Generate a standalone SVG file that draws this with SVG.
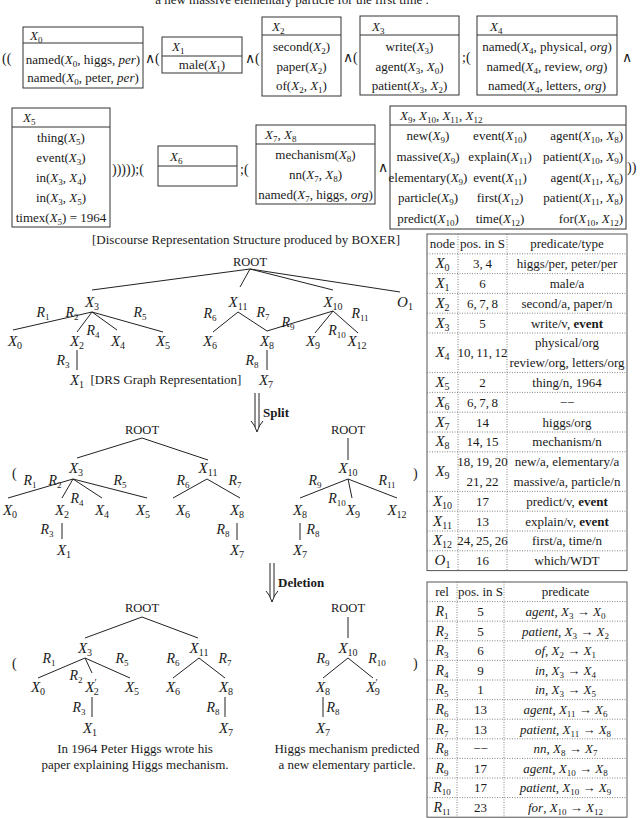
<svg xmlns="http://www.w3.org/2000/svg" width="640" height="818" viewBox="0 0 640 818">
<style>
text{font-family:"Liberation Serif","Times New Roman",serif;fill:#1a1a1a;font-size:13px}
.c{text-anchor:middle}
.c2{text-anchor:middle;font-size:13px}
.e2{text-anchor:end}
.i{font-style:italic}
.b{font-size:9px;font-style:normal;baseline-shift:-3px}
.n{font-size:15px;font-style:italic;text-anchor:middle}
.n .b{font-size:10px}
.r{font-size:14px;font-style:italic;text-anchor:middle}
.rt{font-size:12.5px;text-anchor:middle}
.pr{font-size:10px;font-style:normal;baseline-shift:6px}
.bx{fill:#fff;stroke:#333;stroke-width:1}
.ln{stroke:#333;stroke-width:1;fill:none}
.eg{stroke:#222;stroke-width:1;fill:none}
.tb{fill:none;stroke:#555;stroke-width:1}
.dt{stroke:#666;stroke-width:0.8;stroke-dasharray:1 1.5}
.bd{font-weight:bold}
.p{font-size:14px}
</style>

<text x="292" y="4" class="c">a new massive elementary particle for the first time .</text>

<!-- DRS row 1 -->
<g id="drs-row1">
<text x="2" y="63" class="p">((</text>
<g id="box-X0">
<rect class="bx" x="23" y="27" width="120" height="61"/>
<line class="ln" x1="23" y1="43" x2="143" y2="43"/>
<text x="30" y="39.5"><tspan class="i">X</tspan><tspan class="b">0</tspan></text>
<text x="83" y="63.5" class="c">named(<tspan class="i">X</tspan><tspan class="b">0</tspan>, higgs, <tspan class="i">per</tspan>)</text>
<text x="83" y="81.5" class="c">named(<tspan class="i">X</tspan><tspan class="b">0</tspan>, peter, <tspan class="i">per</tspan>)</text>
</g>
<text x="145" y="63" class="p">∧(</text>
<g id="box-X1">
<rect class="bx" x="162" y="37" width="80" height="36"/>
<line class="ln" x1="162" y1="56" x2="242" y2="56"/>
<text x="172" y="51"><tspan class="i">X</tspan><tspan class="b">1</tspan></text>
<text x="202" y="69" class="c">male(<tspan class="i">X</tspan><tspan class="b">1</tspan>)</text>
</g>
<text x="245" y="63" class="p">∧(</text>
<g id="box-X2">
<rect class="bx" x="262" y="17" width="79" height="79"/>
<line class="ln" x1="262" y1="35" x2="341" y2="35"/>
<text x="272" y="30.5"><tspan class="i">X</tspan><tspan class="b">2</tspan></text>
<text x="301.5" y="51" class="c">second(<tspan class="i">X</tspan><tspan class="b">2</tspan>)</text>
<text x="301.5" y="70.5" class="c">paper(<tspan class="i">X</tspan><tspan class="b">2</tspan>)</text>
<text x="301.5" y="90" class="c">of(<tspan class="i">X</tspan><tspan class="b">2</tspan>, <tspan class="i">X</tspan><tspan class="b">1</tspan>)</text>
</g>
<text x="343" y="62" class="p">∧(</text>
<g id="box-X3">
<rect class="bx" x="360" y="16" width="99" height="79"/>
<line class="ln" x1="360" y1="35" x2="459" y2="35"/>
<text x="372" y="30.5"><tspan class="i">X</tspan><tspan class="b">3</tspan></text>
<text x="409.5" y="51" class="c">write(<tspan class="i">X</tspan><tspan class="b">3</tspan>)</text>
<text x="409.5" y="70.5" class="c">agent(<tspan class="i">X</tspan><tspan class="b">3</tspan>, <tspan class="i">X</tspan><tspan class="b">0</tspan>)</text>
<text x="409.5" y="90" class="c">patient(<tspan class="i">X</tspan><tspan class="b">3</tspan>, <tspan class="i">X</tspan><tspan class="b">2</tspan>)</text>
</g>
<text x="462" y="62" class="p">;(</text>
<g id="box-X4">
<rect class="bx" x="477" y="16" width="140" height="79"/>
<line class="ln" x1="477" y1="35" x2="617" y2="35"/>
<text x="490" y="30.5"><tspan class="i">X</tspan><tspan class="b">4</tspan></text>
<text x="547" y="51" class="c">named(<tspan class="i">X</tspan><tspan class="b">4</tspan>, physical, <tspan class="i">org</tspan>)</text>
<text x="547" y="70.5" class="c">named(<tspan class="i">X</tspan><tspan class="b">4</tspan>, review, <tspan class="i">org</tspan>)</text>
<text x="547" y="90" class="c">named(<tspan class="i">X</tspan><tspan class="b">4</tspan>, letters, <tspan class="i">org</tspan>)</text>
</g>
<text x="622" y="62" class="p">∧</text>
</g>

<!-- DRS row 2 -->
<g id="drs-row2">
<g id="box-X5">
<rect class="bx" x="12" y="108" width="98" height="119"/>
<line class="ln" x1="12" y1="127" x2="110" y2="127"/>
<text x="23" y="122"><tspan class="i">X</tspan><tspan class="b">5</tspan></text>
<text x="61" y="141.5" class="c">thing(<tspan class="i">X</tspan><tspan class="b">5</tspan>)</text>
<text x="61" y="161.5" class="c">event(<tspan class="i">X</tspan><tspan class="b">3</tspan>)</text>
<text x="61" y="181.5" class="c">in(<tspan class="i">X</tspan><tspan class="b">3</tspan>, <tspan class="i">X</tspan><tspan class="b">4</tspan>)</text>
<text x="61" y="201.5" class="c">in(<tspan class="i">X</tspan><tspan class="b">3</tspan>, <tspan class="i">X</tspan><tspan class="b">5</tspan>)</text>
<text x="61" y="221.5" class="c">timex(<tspan class="i">X</tspan><tspan class="b">5</tspan>) = 1964</text>
</g>
<text x="112" y="174" class="p">)))));(</text>
<g id="box-X6">
<rect class="bx" x="158" y="146" width="79" height="40"/>
<line class="ln" x1="158" y1="166" x2="237" y2="166"/>
<text x="170" y="160.5"><tspan class="i">X</tspan><tspan class="b">6</tspan></text>
</g>
<text x="240" y="174" class="p">;(</text>
<g id="box-X7X8">
<rect class="bx" x="256" y="125" width="119" height="79"/>
<line class="ln" x1="256" y1="144" x2="375" y2="144"/>
<text x="265" y="139"><tspan class="i">X</tspan><tspan class="b">7</tspan>, <tspan class="i">X</tspan><tspan class="b">8</tspan></text>
<text x="315.5" y="158.5" class="c">mechanism(<tspan class="i">X</tspan><tspan class="b">8</tspan>)</text>
<text x="315.5" y="178.5" class="c">nn(<tspan class="i">X</tspan><tspan class="b">7</tspan>, <tspan class="i">X</tspan><tspan class="b">8</tspan>)</text>
<text x="315.5" y="198.5" class="c">named(<tspan class="i">X</tspan><tspan class="b">7</tspan>, higgs, <tspan class="i">org</tspan>)</text>
</g>
<text x="378" y="172" class="p">∧</text>
<g id="box-X9-X12">
<rect class="bx" x="390" y="106" width="236" height="123"/>
<line class="ln" x1="390" y1="125" x2="626" y2="125"/>
<text x="400" y="120"><tspan class="i">X</tspan><tspan class="b">9</tspan>, <tspan class="i">X</tspan><tspan class="b">10</tspan>, <tspan class="i">X</tspan><tspan class="b">11</tspan>, <tspan class="i">X</tspan><tspan class="b">12</tspan></text>
<text x="428" y="140" class="c">new(<tspan class="i">X</tspan><tspan class="b">9</tspan>)</text>
<text x="500" y="140" class="c">event(<tspan class="i">X</tspan><tspan class="b">10</tspan>)</text>
<text x="623" y="140" class="e2">agent(<tspan class="i">X</tspan><tspan class="b">10</tspan>, <tspan class="i">X</tspan><tspan class="b">8</tspan>)</text>
<text x="428" y="161" class="c">massive(<tspan class="i">X</tspan><tspan class="b">9</tspan>)</text>
<text x="500" y="161" class="c">explain(<tspan class="i">X</tspan><tspan class="b">11</tspan>)</text>
<text x="623" y="161" class="e2">patient(<tspan class="i">X</tspan><tspan class="b">10</tspan>, <tspan class="i">X</tspan><tspan class="b">9</tspan>)</text>
<text x="428" y="181.5" class="c">elementary(<tspan class="i">X</tspan><tspan class="b">9</tspan>)</text>
<text x="500" y="181.5" class="c">event(<tspan class="i">X</tspan><tspan class="b">11</tspan>)</text>
<text x="623" y="181.5" class="e2">agent(<tspan class="i">X</tspan><tspan class="b">11</tspan>, <tspan class="i">X</tspan><tspan class="b">6</tspan>)</text>
<text x="428" y="202" class="c">particle(<tspan class="i">X</tspan><tspan class="b">9</tspan>)</text>
<text x="500" y="202" class="c">first(<tspan class="i">X</tspan><tspan class="b">12</tspan>)</text>
<text x="623" y="202" class="e2">patient(<tspan class="i">X</tspan><tspan class="b">11</tspan>, <tspan class="i">X</tspan><tspan class="b">8</tspan>)</text>
<text x="428" y="223" class="c">predict(<tspan class="i">X</tspan><tspan class="b">10</tspan>)</text>
<text x="500" y="223" class="c">time(<tspan class="i">X</tspan><tspan class="b">12</tspan>)</text>
<text x="623" y="223" class="e2">for(<tspan class="i">X</tspan><tspan class="b">10</tspan>, <tspan class="i">X</tspan><tspan class="b">12</tspan>)</text>
</g>
<text x="627" y="172" class="p">))</text>
</g>

<text x="246" y="244" class="c">[Discourse Representation Structure produced by BOXER]</text>

<!-- connectors -->
<g id="connectors" class="eg">
<path d="M250,269L92,290M250,269L240,287M250,269L333,290M250,269L400,292"/>
<path d="M92,312L13,330M92,312L77,332M92,312L117,330M92,312L163,332"/>
<path d="M77,350V370M238,312L213,332M238,312L267,331M267,331L333,311M333,311L315,333M333,311L358,333M267,350V370"/>
<path d="M142,438L77,458M142,438L208,460"/>
<path d="M73,479L8,498M73,479L62,498M73,479L102,498M73,479L147,498M62,523V539"/>
<path d="M207,479L173,498M207,479L240,498M237,523V540"/>
<path d="M348,438V460M348,479L300,498M348,479L352,498M348,479L397,498M300,523V540"/>
<path d="M142,617L85,638M142,617L198,638"/>
<path d="M85,658L38,678M85,658L92,673M85,658L130,678M92,697V717"/>
<path d="M199,658L173,678M199,658L225,678M225,697V717"/>
<path d="M348,617V638M348,658L323,678M348,658L373,678M323,697V717"/>
</g>

<g id="edge-labels">
<text x="43" y="317" class="r">R<tspan class="b">1</tspan></text>
<text x="72" y="317" class="r">R<tspan class="b">2</tspan></text>
<text x="140" y="317" class="r">R<tspan class="b">5</tspan></text>
<text x="93" y="335" class="r">R<tspan class="b">4</tspan></text>
<text x="63" y="365" class="r">R<tspan class="b">3</tspan></text>
<text x="210" y="318" class="r">R<tspan class="b">6</tspan></text>
<text x="263" y="317" class="r">R<tspan class="b">7</tspan></text>
<text x="288" y="327" class="r">R<tspan class="b">9</tspan></text>
<text x="337" y="335" class="r">R<tspan class="b">10</tspan></text>
<text x="360" y="318" class="r">R<tspan class="b">11</tspan></text>
<text x="252" y="365" class="r">R<tspan class="b">8</tspan></text>

<text x="30" y="485" class="r">R<tspan class="b">1</tspan></text>
<text x="55" y="485" class="r">R<tspan class="b">2</tspan></text>
<text x="120" y="485" class="r">R<tspan class="b">5</tspan></text>
<text x="77" y="503" class="r">R<tspan class="b">4</tspan></text>
<text x="47" y="534" class="r">R<tspan class="b">3</tspan></text>
<text x="183" y="485" class="r">R<tspan class="b">6</tspan></text>
<text x="235" y="485" class="r">R<tspan class="b">7</tspan></text>
<text x="223" y="534" class="r">R<tspan class="b">8</tspan></text>
<text x="315" y="485" class="r">R<tspan class="b">9</tspan></text>
<text x="337" y="503" class="r">R<tspan class="b">10</tspan></text>
<text x="387" y="485" class="r">R<tspan class="b">11</tspan></text>
<text x="313" y="534" class="r">R<tspan class="b">8</tspan></text>

<text x="49" y="663" class="r">R<tspan class="b">1</tspan></text>
<text x="122" y="663" class="r">R<tspan class="b">5</tspan></text>
<text x="76" y="680" class="r">R<tspan class="b">2</tspan></text>
<text x="79" y="712" class="r">R<tspan class="b">3</tspan></text>
<text x="173" y="663" class="r">R<tspan class="b">6</tspan></text>
<text x="225" y="663" class="r">R<tspan class="b">7</tspan></text>
<text x="213" y="712" class="r">R<tspan class="b">8</tspan></text>
<text x="323" y="663" class="r">R<tspan class="b">9</tspan></text>
<text x="377" y="663" class="r">R<tspan class="b">10</tspan></text>
<text x="333" y="712" class="r">R<tspan class="b">8</tspan></text>
</g>

<!-- tree 1 nodes -->
<g id="t1-ROOT"><text x="250" y="266" class="rt">ROOT</text></g>
<g id="t1-X3"><text x="92" y="307" class="n">X<tspan class="b">3</tspan></text></g>
<g id="t1-X11"><text x="238" y="307" class="n">X<tspan class="b">11</tspan></text></g>
<g id="t1-X10"><text x="333" y="307" class="n">X<tspan class="b">10</tspan></text></g>
<g id="t1-O1"><text x="405" y="307" class="n">O<tspan class="b">1</tspan></text></g>
<g id="t1-X0"><text x="15" y="346" class="n">X<tspan class="b">0</tspan></text></g>
<g id="t1-X2"><text x="77" y="346" class="n">X<tspan class="b">2</tspan></text></g>
<g id="t1-X4"><text x="118" y="346" class="n">X<tspan class="b">4</tspan></text></g>
<g id="t1-X5"><text x="163" y="346" class="n">X<tspan class="b">5</tspan></text></g>
<g id="t1-X6"><text x="210" y="346" class="n">X<tspan class="b">6</tspan></text></g>
<g id="t1-X8"><text x="267" y="346" class="n">X<tspan class="b">8</tspan></text></g>
<g id="t1-X9"><text x="313" y="346" class="n">X<tspan class="b">9</tspan></text></g>
<g id="t1-X12"><text x="357" y="346" class="n">X<tspan class="b">12</tspan></text></g>
<g id="t1-X1"><text x="77" y="385" class="n">X<tspan class="b">1</tspan></text></g>
<g id="t1-X7"><text x="266" y="385" class="n">X<tspan class="b">7</tspan></text></g>
<text x="166" y="384" class="c">[DRS Graph Representation]</text>

<g id="arrow-split" class="eg">
<path d="M255,393V427M259,393V427M251,421Q255,425 257,432Q259,425 263,421"/>
</g>
<text x="263" y="417" class="bd">Split</text>

<!-- tree 2 -->
<text x="12" y="478" class="p">(</text>
<text x="413" y="478" class="p">)</text>
<g id="t2-ROOT-a"><text x="142" y="434" class="rt">ROOT</text></g>
<g id="t2-X3"><text x="76" y="473" class="n">X<tspan class="b">3</tspan></text></g>
<g id="t2-X11"><text x="208" y="473" class="n">X<tspan class="b">11</tspan></text></g>
<g id="t2-X0"><text x="10" y="515" class="n">X<tspan class="b">0</tspan></text></g>
<g id="t2-X2"><text x="62" y="515" class="n">X<tspan class="b">2</tspan></text></g>
<g id="t2-X4"><text x="102" y="515" class="n">X<tspan class="b">4</tspan></text></g>
<g id="t2-X5"><text x="143" y="515" class="n">X<tspan class="b">5</tspan></text></g>
<g id="t2-X6"><text x="183" y="515" class="n">X<tspan class="b">6</tspan></text></g>
<g id="t2-X8a"><text x="237" y="515" class="n">X<tspan class="b">8</tspan></text></g>
<g id="t2-X1"><text x="64" y="555" class="n">X<tspan class="b">1</tspan></text></g>
<g id="t2-X7a"><text x="237" y="555" class="n">X<tspan class="b">7</tspan></text></g>
<g id="t2-ROOT-b"><text x="348" y="434" class="rt">ROOT</text></g>
<g id="t2-X10"><text x="348" y="473" class="n">X<tspan class="b">10</tspan></text></g>
<g id="t2-X8b"><text x="300" y="515" class="n">X<tspan class="b">8</tspan></text></g>
<g id="t2-X9"><text x="353" y="515" class="n">X<tspan class="b">9</tspan></text></g>
<g id="t2-X12"><text x="397" y="515" class="n">X<tspan class="b">12</tspan></text></g>
<g id="t2-X7b"><text x="300" y="555" class="n">X<tspan class="b">7</tspan></text></g>

<g id="arrow-deletion" class="eg">
<path d="M270,563V597M274,563V597M266,591Q270,595 272,602Q274,595 278,591"/>
</g>
<text x="278" y="587" class="bd">Deletion</text>

<!-- tree 3 -->
<text x="12" y="668" class="p">(</text>
<text x="413" y="668" class="p">)</text>
<g id="t3-ROOT-a"><text x="142" y="612" class="rt">ROOT</text></g>
<g id="t3-X3"><text x="85" y="653" class="n">X<tspan class="b">3</tspan></text></g>
<g id="t3-X11"><text x="199" y="653" class="n">X<tspan class="b">11</tspan></text></g>
<g id="t3-X0"><text x="38" y="692" class="n">X<tspan class="b">0</tspan></text></g>
<g id="t3-X2p"><text x="92" y="692" class="n">X<tspan class="pr">′</tspan><tspan class="b" dx="-3">2</tspan></text></g>
<g id="t3-X5"><text x="132" y="692" class="n">X<tspan class="b">5</tspan></text></g>
<g id="t3-X6"><text x="173" y="692" class="n">X<tspan class="b">6</tspan></text></g>
<g id="t3-X8a"><text x="226" y="692" class="n">X<tspan class="b">8</tspan></text></g>
<g id="t3-X1"><text x="90" y="733" class="n">X<tspan class="b">1</tspan></text></g>
<g id="t3-X7a"><text x="226" y="733" class="n">X<tspan class="b">7</tspan></text></g>
<g id="t3-ROOT-b"><text x="348" y="612" class="rt">ROOT</text></g>
<g id="t3-X10"><text x="348" y="653" class="n">X<tspan class="b">10</tspan></text></g>
<g id="t3-X8b"><text x="323" y="692" class="n">X<tspan class="b">8</tspan></text></g>
<g id="t3-X9p"><text x="373" y="692" class="n">X<tspan class="pr">′</tspan><tspan class="b" dx="-3">9</tspan></text></g>
<g id="t3-X7b"><text x="323" y="733" class="n">X<tspan class="b">7</tspan></text></g>

<text x="135" y="753" class="c">In 1964 Peter Higgs wrote his</text>
<text x="135" y="769" class="c">paper explaining Higgs mechanism.</text>
<text x="347" y="753" class="c">Higgs mechanism predicted</text>
<text x="347" y="769" class="c">a new elementary particle.</text>

<!-- table 1 -->
<g id="table-nodes">
<rect class="tb" x="427" y="234" width="200" height="336.6"/>
<path class="dt" d="M458,234V570.6M507,234V570.6"/>
<path class="dt" d="M427,253.8H627M427,273.6H627M427,293.4H627M427,313.2H627M427,333H627M427,372.6H627M427,392.4H627M427,412.2H627M427,432H627M427,451.8H627M427,491.4H627M427,511.2H627M427,531H627M427,550.8H627"/>
<text x="442.5" y="248.4" class="c2">node</text><text x="482.5" y="248.4" class="c2">pos. in S</text><text x="567" y="248.4" class="c2">predicate/type</text>
<text x="442.5" y="268.2" class="n">X<tspan class="b">0</tspan></text><text x="482.5" y="268.2" class="c2">3,&#8201;4</text><text x="567" y="268.2" class="c2">higgs/per, peter/per</text>
<text x="442.5" y="288" class="n">X<tspan class="b">1</tspan></text><text x="482.5" y="288" class="c2">6</text><text x="567" y="288" class="c2">male/a</text>
<text x="442.5" y="307.8" class="n">X<tspan class="b">2</tspan></text><text x="482.5" y="307.8" class="c2">6,&#8201;7,&#8201;8</text><text x="567" y="307.8" class="c2">second/a, paper/n</text>
<text x="442.5" y="327.6" class="n">X<tspan class="b">3</tspan></text><text x="482.5" y="327.6" class="c2">5</text><text x="567" y="327.6" class="c2">write/v, <tspan class="bd">event</tspan></text>
<text x="442.5" y="357.3" class="n">X<tspan class="b">4</tspan></text><text x="482.5" y="357.3" class="c2">10,&#8201;11,&#8201;12</text><text x="567" y="347.4" class="c2">physical/org</text><text x="567" y="367.2" class="c2">review/org, letters/org</text>
<text x="442.5" y="387" class="n">X<tspan class="b">5</tspan></text><text x="482.5" y="387" class="c2">2</text><text x="567" y="387" class="c2">thing/n, 1964</text>
<text x="442.5" y="406.8" class="n">X<tspan class="b">6</tspan></text><text x="482.5" y="406.8" class="c2">6,&#8201;7,&#8201;8</text><text x="567" y="406.8" class="c2">−−</text>
<text x="442.5" y="426.6" class="n">X<tspan class="b">7</tspan></text><text x="482.5" y="426.6" class="c2">14</text><text x="567" y="426.6" class="c2">higgs/org</text>
<text x="442.5" y="446.4" class="n">X<tspan class="b">8</tspan></text><text x="482.5" y="446.4" class="c2">14,&#8201;15</text><text x="567" y="446.4" class="c2">mechanism/n</text>
<text x="442.5" y="476.1" class="n">X<tspan class="b">9</tspan></text><text x="482.5" y="466.2" class="c2">18,&#8201;19,&#8201;20</text><text x="482.5" y="486" class="c2">21,&#8201;22</text><text x="567" y="466.2" class="c2">new/a, elementary/a</text><text x="567" y="486" class="c2">massive/a, particle/n</text>
<text x="442.5" y="505.8" class="n">X<tspan class="b">10</tspan></text><text x="482.5" y="505.8" class="c2">17</text><text x="567" y="505.8" class="c2">predict/v, <tspan class="bd">event</tspan></text>
<text x="442.5" y="525.6" class="n">X<tspan class="b">11</tspan></text><text x="482.5" y="525.6" class="c2">13</text><text x="567" y="525.6" class="c2">explain/v, <tspan class="bd">event</tspan></text>
<text x="442.5" y="545.4" class="n">X<tspan class="b">12</tspan></text><text x="482.5" y="545.4" class="c2">24,&#8201;25,&#8201;26</text><text x="567" y="545.4" class="c2">first/a, time/n</text>
<text x="442.5" y="565.2" class="n">O<tspan class="b">1</tspan></text><text x="482.5" y="565.2" class="c2">16</text><text x="567" y="565.2" class="c2">which/WDT</text>
</g>

<!-- table 2 -->
<g id="table-relations">
<rect class="tb" x="427" y="582" width="200" height="235.2"/>
<path class="dt" d="M457,582V817.2M504,582V817.2"/>
<path class="dt" d="M427,601.6H627M427,621.2H627M427,640.8H627M427,660.4H627M427,680H627M427,699.6H627M427,719.2H627M427,738.8H627M427,758.4H627M427,778H627M427,797.6H627"/>
<text x="442" y="596.3" class="c2">rel</text><text x="480.5" y="596.3" class="c2">pos. in S</text><text x="565.5" y="596.3" class="c2">predicate</text>
<text x="442" y="615.9" class="r">R<tspan class="b">1</tspan></text><text x="480.5" y="615.9" class="c2">5</text><text x="565.5" y="615.9" class="c2"><tspan class="i">agent</tspan>, <tspan class="i">X</tspan><tspan class="b">3</tspan> → <tspan class="i">X</tspan><tspan class="b">0</tspan></text>
<text x="442" y="635.5" class="r">R<tspan class="b">2</tspan></text><text x="480.5" y="635.5" class="c2">5</text><text x="565.5" y="635.5" class="c2"><tspan class="i">patient</tspan>, <tspan class="i">X</tspan><tspan class="b">3</tspan> → <tspan class="i">X</tspan><tspan class="b">2</tspan></text>
<text x="442" y="655.1" class="r">R<tspan class="b">3</tspan></text><text x="480.5" y="655.1" class="c2">6</text><text x="565.5" y="655.1" class="c2"><tspan class="i">of</tspan>, <tspan class="i">X</tspan><tspan class="b">2</tspan> → <tspan class="i">X</tspan><tspan class="b">1</tspan></text>
<text x="442" y="674.7" class="r">R<tspan class="b">4</tspan></text><text x="480.5" y="674.7" class="c2">9</text><text x="565.5" y="674.7" class="c2"><tspan class="i">in</tspan>, <tspan class="i">X</tspan><tspan class="b">3</tspan> → <tspan class="i">X</tspan><tspan class="b">4</tspan></text>
<text x="442" y="694.3" class="r">R<tspan class="b">5</tspan></text><text x="480.5" y="694.3" class="c2">1</text><text x="565.5" y="694.3" class="c2"><tspan class="i">in</tspan>, <tspan class="i">X</tspan><tspan class="b">3</tspan> → <tspan class="i">X</tspan><tspan class="b">5</tspan></text>
<text x="442" y="713.9" class="r">R<tspan class="b">6</tspan></text><text x="480.5" y="713.9" class="c2">13</text><text x="565.5" y="713.9" class="c2"><tspan class="i">agent</tspan>, <tspan class="i">X</tspan><tspan class="b">11</tspan> → <tspan class="i">X</tspan><tspan class="b">6</tspan></text>
<text x="442" y="733.5" class="r">R<tspan class="b">7</tspan></text><text x="480.5" y="733.5" class="c2">13</text><text x="565.5" y="733.5" class="c2"><tspan class="i">patient</tspan>, <tspan class="i">X</tspan><tspan class="b">11</tspan> → <tspan class="i">X</tspan><tspan class="b">8</tspan></text>
<text x="442" y="753.1" class="r">R<tspan class="b">8</tspan></text><text x="480.5" y="753.1" class="c2">−−</text><text x="565.5" y="753.1" class="c2"><tspan class="i">nn</tspan>, <tspan class="i">X</tspan><tspan class="b">8</tspan> → <tspan class="i">X</tspan><tspan class="b">7</tspan></text>
<text x="442" y="772.7" class="r">R<tspan class="b">9</tspan></text><text x="480.5" y="772.7" class="c2">17</text><text x="565.5" y="772.7" class="c2"><tspan class="i">agent</tspan>, <tspan class="i">X</tspan><tspan class="b">10</tspan> → <tspan class="i">X</tspan><tspan class="b">8</tspan></text>
<text x="442" y="792.3" class="r">R<tspan class="b">10</tspan></text><text x="480.5" y="792.3" class="c2">17</text><text x="565.5" y="792.3" class="c2"><tspan class="i">patient</tspan>, <tspan class="i">X</tspan><tspan class="b">10</tspan> → <tspan class="i">X</tspan><tspan class="b">9</tspan></text>
<text x="442" y="811.9" class="r">R<tspan class="b">11</tspan></text><text x="480.5" y="811.9" class="c2">23</text><text x="565.5" y="811.9" class="c2"><tspan class="i">for</tspan>, <tspan class="i">X</tspan><tspan class="b">10</tspan> → <tspan class="i">X</tspan><tspan class="b">12</tspan></text>
</g>
</svg>
